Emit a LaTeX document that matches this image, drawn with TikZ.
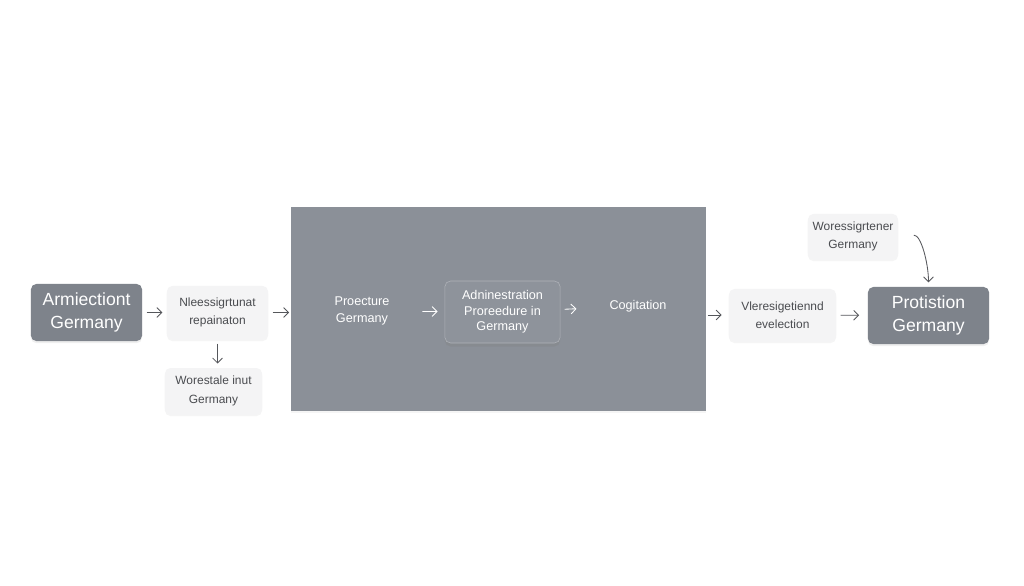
\documentclass[tikz,border=0pt]{standalone}
\usepackage{fontspec}
\setmainfont{Liberation Sans}
\usetikzlibrary{arrows.meta, positioning, shadows}
\definecolor{slate}{HTML}{7E838B}
\definecolor{panelgray}{HTML}{8B9098}
\definecolor{innergray}{HTML}{8E939B}
\definecolor{paper}{HTML}{F4F4F5}
\definecolor{inkgray}{HTML}{4A4C50}
\definecolor{arrowgray}{HTML}{55575B}
\tikzstyle{darkbox} = [rectangle, rounded corners=4pt, fill=slate, text=white, align=center, font=\fontsize{12.5}{16}\selectfont, drop shadow={opacity=0.12, shadow xshift=0pt, shadow yshift=-1.5pt}]
\tikzstyle{lightbox} = [rectangle, rounded corners=4pt, fill=paper, text=inkgray, align=center, font=\fontsize{8.5}{13}\selectfont, drop shadow={opacity=0.08, shadow xshift=0pt, shadow yshift=-1.5pt}]
\tikzstyle{paneltext} = [text=white, align=center, font=\fontsize{9}{12}\selectfont]
\tikzstyle{arrow} = [semithick, arrowgray, -{Straight Barb[length=3.5pt, width=7pt]}, shorten <=3pt, shorten >=3pt]

\begin{document}
\begin{tikzpicture}[x=0.025cm, y=-0.025cm]
      \useasboundingbox[fill=white] (0,0) rectangle (1024,585);

      % left column
      \node (armi) [darkbox, minimum width=2.78cm, minimum height=1.43cm] at (86.5,312.5) {Armiectiont\\Germany};
      \node (nlee) [lightbox, minimum width=2.53cm, minimum height=1.33cm] at (217.5,312.5) {Nleessigrtunat\\repainaton};
      \node (wore) [lightbox, minimum width=2.43cm, minimum height=1.15cm] at (213.5,391) {Worestale inut\\Germany};

      % big panel
      \node (panel) [rectangle, fill=panelgray, minimum width=10.38cm, minimum height=5.1cm,
        drop shadow={opacity=0.08, shadow xshift=0pt, shadow yshift=-1.5pt}] at (498.5,309) {};
      \node (proec) [paneltext, minimum width=3cm] at (362,311) {Proecture\\Germany};
      \node (admin) [rectangle, rounded corners=4pt, fill=innergray, draw=white!30!innergray, paneltext,
        font=\fontsize{9}{11}\selectfont, minimum width=2.88cm, minimum height=1.55cm,
        drop shadow={opacity=0.3, shadow xshift=0pt, shadow yshift=-2.5pt}] at (502.5,312) {Adninestration\\Proreedure in\\Germany};
      \node (cogit) [paneltext, minimum width=2.85cm] at (638,306) {Cogitation};

      % right column
      \node (vier) [lightbox, minimum width=2.68cm, minimum height=1.3cm] at (782.5,315) {Vleresigetiennd\\evelection};
      \node (prot) [darkbox, minimum width=3.03cm, minimum height=1.43cm] at (928.5,315.5) {Protistion\\Germany};
      \node (woress) [lightbox, minimum width=2.2cm, minimum height=1.13cm] at (853,236.5) {Woressigrtener\\Germany};

      \draw [arrow] (armi) -- (nlee);
      \draw [arrow] (nlee.south) -- (nlee.south |- wore.north);
      \draw [arrow, shorten >=1pt] (nlee) -- (nlee.east -| panel.west);
      \draw [arrow, white, shorten <=0pt, shorten >=5pt] (proec) -- (admin);
      \draw [arrow, white] (admin) -- (cogit);
      \draw [arrow, shorten <=1pt, shorten >=5pt] (panel.east |- vier.west) -- (vier);
      \draw [arrow, shorten >=6pt] (vier) -- (prot);
      \draw [arrow, shorten <=11pt] (woress.east) to[out=5, in=90] (prot.north);
\end{tikzpicture}
\end{document}
